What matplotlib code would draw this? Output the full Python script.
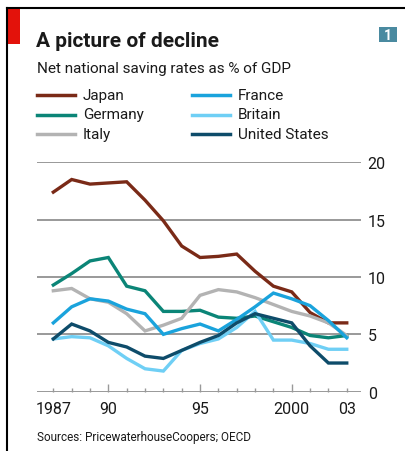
import numpy as np
import matplotlib
matplotlib.use("Agg")
import matplotlib.pyplot as plt
from matplotlib.patches import Rectangle
from matplotlib.lines import Line2D

plt.rcParams['font.family'] = ['Roboto', 'DejaVu Sans']
plt.rcParams['text.color'] = '#1a1a1a'

# Данные: годы и нормы сбережений, % ВВП
years = np.arange(1987, 2004)
japan = [17.4, 18.5, 18.1, 18.2, 18.3, 16.7, 14.9, 12.7, 11.7, 11.8, 12.0, 10.5, 9.2, 8.7, 6.9, 6.0, 6.0]
germany = [9.3, 10.3, 11.4, 11.7, 9.2, 8.8, 7.0, 7.0, 7.1, 6.5, 6.4, 6.6, 6.1, 5.6, 4.9, 4.7, 4.9]
italy = [8.8, 9.0, 8.1, 7.8, 6.8, 5.3, 5.8, 6.4, 8.4, 8.9, 8.7, 8.2, 7.6, 7.0, 6.6, 6.0, 4.9]
france = [6.0, 7.4, 8.1, 7.9, 7.2, 6.8, 5.0, 5.5, 5.9, 5.3, 6.3, 7.4, 8.6, 8.1, 7.5, 6.2, 4.7]
britain = [4.6, 4.8, 4.7, 4.0, 2.9, 2.0, 1.8, 3.6, 4.2, 4.6, 5.6, 7.0, 4.5, 4.5, 4.2, 3.7, 3.7]
usa = [4.6, 5.9, 5.3, 4.3, 3.9, 3.1, 2.9, 3.6, 4.3, 4.9, 6.0, 6.8, 6.4, 6.0, 4.0, 2.5, 2.5]

names = ['Japan', 'Germany', 'Italy', 'France', 'Britain', 'United States']
series = [japan, germany, italy, france, britain, usa]
colors = ['#7a2a17', '#0b8577', '#b3b3b3', '#1aa3dc', '#6fcff5', '#0e4c6a']

yticks = [0, 5, 10, 15, 20]
xtick_years = [1987, 1990, 1995, 2000, 2003]
xtick_labels = ['1987', '90', '95', '2000', '03']

W, H = 405, 452
fig = plt.figure(figsize=(W / 100, H / 100), dpi=100)

def fx(px):
    return px / W

def fy(py):
    return 1 - py / H

# Рамка: верх и левый край
fig.add_artist(Line2D([fx(7), 1], [fy(9), fy(9)], color='black', lw=1.5))
fig.add_artist(Line2D([fx(7), fx(7)], [fy(9), 0], color='black', lw=1.5))
fig.add_artist(Rectangle((fx(8), fy(45)), fx(12), fy(10) - fy(45),
                         color='#e3120b', lw=0))
fig.add_artist(Rectangle((fx(379), fy(43)), fx(18), fy(28) - fy(43),
                         color='#4a8aa0', lw=0))
fig.text(fx(388), fy(35.5), '1', color='white', fontsize=10, fontweight='bold',
         ha='center', va='center')

fig.text(fx(36), fy(47), 'A picture of decline', fontsize=15, fontweight='bold',
         ha='left', va='baseline')
fig.text(fx(37), fy(73), 'Net national saving rates as % of GDP', fontsize=11,
         ha='left', va='baseline')

# Легенда вручную, две колонки
for i, (name, c) in enumerate(zip(names, colors)):
    col, row = divmod(i, 3)
    x0 = 37 + col * 155
    y0 = 96 + row * 19.5
    fig.add_artist(Line2D([fx(x0), fx(x0 + 38)], [fy(y0), fy(y0)], color=c, lw=2.5))
    fig.text(fx(x0 + 46), fy(y0), name, fontsize=11, ha='left', va='center')

ax = fig.add_axes([fx(37), fy(392.7), fx(360.7) - fx(37), fy(163.3) - fy(392.7)])
ax.set_xlim(1986.11, 2003.76)
ax.set_ylim(0, 20)

for v in yticks:
    ax.axhline(v, color='#999999', lw=1.4, zorder=1)

for s, c in zip(series, colors):
    ax.plot(years, s, color=c, lw=2.4, zorder=3, clip_on=False, solid_joinstyle='miter')

for s in ax.spines.values():
    s.set_visible(False)

ax.set_xticks(xtick_years)
ax.set_xticklabels(xtick_labels, fontsize=11.5, color='#1a1a1a')
ax.set_xticks(years, minor=True)
ax.tick_params(axis='x', which='major', direction='in', length=6, width=1,
               color='#999999', pad=7)
ax.tick_params(axis='x', which='minor', direction='in', length=3, width=1,
               color='#999999')
# 1987 и 2003 - короткие засечки
ax.xaxis.get_major_ticks()[0].tick1line.set_markersize(3)
ax.xaxis.get_major_ticks()[-1].tick1line.set_markersize(3)

ax.yaxis.tick_right()
ax.set_yticks(yticks)
ax.set_yticklabels([str(v) for v in yticks], fontsize=11.5, color='#1a1a1a')
ax.tick_params(axis='y', length=0, pad=5)

fig.text(fx(37), fy(441), 'Sources: PricewaterhouseCoopers; OECD', fontsize=8.5,
         ha='left', va='baseline')

fig.savefig('out.png', dpi=100)
